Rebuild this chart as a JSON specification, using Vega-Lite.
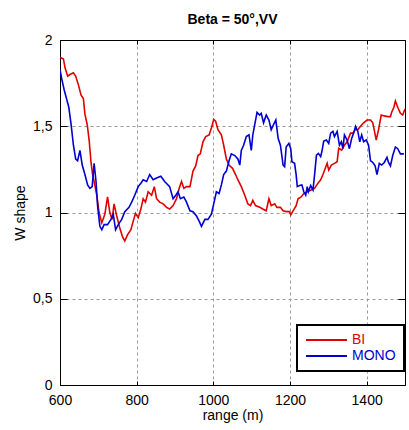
{
  "$schema": "https://vega.github.io/schema/vega-lite/v6.json",
  "width": 345,
  "height": 345,
  "autosize": "none",
  "padding": {"left": 60, "top": 40, "right": 4, "bottom": 45},
  "background": "white",
  "title": {"text": "Beta = 50°,VV", "font": "Liberation Sans", "fontSize": 14, "fontWeight": "bold", "color": "black", "offset": 6},
  "config": {
    "view": {"stroke": "black", "strokeWidth": 1},
    "axis": {"domainColor": "black", "tickColor": "black", "labelColor": "black", "titleColor": "black", "labelFont": "Liberation Sans", "titleFont": "Liberation Sans", "labelFontSize": 14, "titleFontSize": 14, "titleFontWeight": "normal", "gridColor": "#9a9a9a", "gridDash": [3, 3], "gridOpacity": 1, "gridWidth": 1}
  },
  "data": {"values": [
    {"r":600,"v":1.90,"s":"BI"},{"r":609,"v":1.89,"s":"BI"},{"r":613,"v":1.84,"s":"BI"},{"r":620,"v":1.79,"s":"BI"},{"r":626,"v":1.80,"s":"BI"},{"r":635,"v":1.81,"s":"BI"},{"r":641,"v":1.79,"s":"BI"},{"r":648,"v":1.74,"s":"BI"},{"r":655,"v":1.68,"s":"BI"},{"r":661,"v":1.66,"s":"BI"},{"r":665,"v":1.57,"s":"BI"},{"r":671,"v":1.51,"s":"BI"},{"r":676,"v":1.42,"s":"BI"},{"r":681,"v":1.29,"s":"BI"},{"r":685,"v":1.22,"s":"BI"},{"r":689,"v":1.18,"s":"BI"},{"r":696,"v":1.10,"s":"BI"},{"r":702,"v":1.00,"s":"BI"},{"r":709,"v":0.94,"s":"BI"},{"r":717,"v":0.99,"s":"BI"},{"r":724,"v":1.09,"s":"BI"},{"r":730,"v":1.00,"s":"BI"},{"r":736,"v":0.96,"s":"BI"},{"r":741,"v":1.05,"s":"BI"},{"r":748,"v":0.98,"s":"BI"},{"r":756,"v":0.91,"s":"BI"},{"r":763,"v":0.86,"s":"BI"},{"r":769,"v":0.835,"s":"BI"},{"r":776,"v":0.87,"s":"BI"},{"r":785,"v":0.90,"s":"BI"},{"r":791,"v":0.95,"s":"BI"},{"r":797,"v":0.995,"s":"BI"},{"r":804,"v":0.97,"s":"BI"},{"r":811,"v":1.02,"s":"BI"},{"r":817,"v":1.08,"s":"BI"},{"r":823,"v":1.06,"s":"BI"},{"r":830,"v":1.12,"s":"BI"},{"r":839,"v":1.10,"s":"BI"},{"r":846,"v":1.15,"s":"BI"},{"r":852,"v":1.08,"s":"BI"},{"r":860,"v":1.06,"s":"BI"},{"r":869,"v":1.05,"s":"BI"},{"r":878,"v":1.03,"s":"BI"},{"r":886,"v":1.02,"s":"BI"},{"r":895,"v":1.04,"s":"BI"},{"r":904,"v":1.08,"s":"BI"},{"r":911,"v":1.14,"s":"BI"},{"r":917,"v":1.18,"s":"BI"},{"r":923,"v":1.14,"s":"BI"},{"r":930,"v":1.15,"s":"BI"},{"r":939,"v":1.15,"s":"BI"},{"r":947,"v":1.24,"s":"BI"},{"r":954,"v":1.27,"s":"BI"},{"r":960,"v":1.33,"s":"BI"},{"r":966,"v":1.34,"s":"BI"},{"r":973,"v":1.41,"s":"BI"},{"r":980,"v":1.44,"s":"BI"},{"r":989,"v":1.45,"s":"BI"},{"r":995,"v":1.49,"s":"BI"},{"r":1001,"v":1.54,"s":"BI"},{"r":1006,"v":1.53,"s":"BI"},{"r":1012,"v":1.48,"s":"BI"},{"r":1021,"v":1.45,"s":"BI"},{"r":1027,"v":1.39,"s":"BI"},{"r":1034,"v":1.31,"s":"BI"},{"r":1041,"v":1.275,"s":"BI"},{"r":1050,"v":1.256,"s":"BI"},{"r":1058,"v":1.22,"s":"BI"},{"r":1064,"v":1.19,"s":"BI"},{"r":1073,"v":1.15,"s":"BI"},{"r":1082,"v":1.10,"s":"BI"},{"r":1090,"v":1.05,"s":"BI"},{"r":1097,"v":1.04,"s":"BI"},{"r":1103,"v":1.07,"s":"BI"},{"r":1110,"v":1.04,"s":"BI"},{"r":1121,"v":1.03,"s":"BI"},{"r":1129,"v":1.02,"s":"BI"},{"r":1138,"v":1.01,"s":"BI"},{"r":1145,"v":1.08,"s":"BI"},{"r":1151,"v":1.04,"s":"BI"},{"r":1160,"v":1.05,"s":"BI"},{"r":1166,"v":1.03,"s":"BI"},{"r":1175,"v":1.03,"s":"BI"},{"r":1182,"v":1.01,"s":"BI"},{"r":1190,"v":1.005,"s":"BI"},{"r":1199,"v":1.005,"s":"BI"},{"r":1202,"v":0.986,"s":"BI"},{"r":1208,"v":1.01,"s":"BI"},{"r":1216,"v":1.04,"s":"BI"},{"r":1221,"v":1.08,"s":"BI"},{"r":1229,"v":1.09,"s":"BI"},{"r":1236,"v":1.11,"s":"BI"},{"r":1245,"v":1.12,"s":"BI"},{"r":1255,"v":1.13,"s":"BI"},{"r":1264,"v":1.14,"s":"BI"},{"r":1273,"v":1.17,"s":"BI"},{"r":1280,"v":1.19,"s":"BI"},{"r":1286,"v":1.22,"s":"BI"},{"r":1292,"v":1.256,"s":"BI"},{"r":1297,"v":1.285,"s":"BI"},{"r":1301,"v":1.246,"s":"BI"},{"r":1308,"v":1.275,"s":"BI"},{"r":1316,"v":1.285,"s":"BI"},{"r":1323,"v":1.294,"s":"BI"},{"r":1327,"v":1.372,"s":"BI"},{"r":1335,"v":1.362,"s":"BI"},{"r":1342,"v":1.39,"s":"BI"},{"r":1349,"v":1.41,"s":"BI"},{"r":1358,"v":1.46,"s":"BI"},{"r":1364,"v":1.46,"s":"BI"},{"r":1370,"v":1.48,"s":"BI"},{"r":1377,"v":1.48,"s":"BI"},{"r":1384,"v":1.50,"s":"BI"},{"r":1392,"v":1.52,"s":"BI"},{"r":1401,"v":1.536,"s":"BI"},{"r":1410,"v":1.536,"s":"BI"},{"r":1416,"v":1.52,"s":"BI"},{"r":1425,"v":1.42,"s":"BI"},{"r":1431,"v":1.48,"s":"BI"},{"r":1438,"v":1.565,"s":"BI"},{"r":1446,"v":1.56,"s":"BI"},{"r":1455,"v":1.556,"s":"BI"},{"r":1462,"v":1.556,"s":"BI"},{"r":1465,"v":1.58,"s":"BI"},{"r":1471,"v":1.61,"s":"BI"},{"r":1475,"v":1.646,"s":"BI"},{"r":1481,"v":1.61,"s":"BI"},{"r":1488,"v":1.575,"s":"BI"},{"r":1494,"v":1.565,"s":"BI"},{"r":1500,"v":1.60,"s":"BI"},
    {"r":600,"v":1.83,"s":"MONO"},{"r":604,"v":1.78,"s":"MONO"},{"r":611,"v":1.71,"s":"MONO"},{"r":617,"v":1.66,"s":"MONO"},{"r":623,"v":1.61,"s":"MONO"},{"r":629,"v":1.51,"s":"MONO"},{"r":635,"v":1.39,"s":"MONO"},{"r":641,"v":1.31,"s":"MONO"},{"r":646,"v":1.30,"s":"MONO"},{"r":652,"v":1.36,"s":"MONO"},{"r":658,"v":1.275,"s":"MONO"},{"r":665,"v":1.22,"s":"MONO"},{"r":672,"v":1.16,"s":"MONO"},{"r":678,"v":1.14,"s":"MONO"},{"r":684,"v":1.15,"s":"MONO"},{"r":689,"v":1.285,"s":"MONO"},{"r":694,"v":1.18,"s":"MONO"},{"r":698,"v":1.04,"s":"MONO"},{"r":704,"v":0.92,"s":"MONO"},{"r":709,"v":0.90,"s":"MONO"},{"r":715,"v":0.93,"s":"MONO"},{"r":724,"v":0.93,"s":"MONO"},{"r":733,"v":0.96,"s":"MONO"},{"r":739,"v":0.99,"s":"MONO"},{"r":745,"v":0.90,"s":"MONO"},{"r":752,"v":0.93,"s":"MONO"},{"r":761,"v":0.96,"s":"MONO"},{"r":769,"v":1.005,"s":"MONO"},{"r":780,"v":1.03,"s":"MONO"},{"r":787,"v":1.06,"s":"MONO"},{"r":795,"v":1.10,"s":"MONO"},{"r":804,"v":1.15,"s":"MONO"},{"r":811,"v":1.17,"s":"MONO"},{"r":817,"v":1.19,"s":"MONO"},{"r":826,"v":1.18,"s":"MONO"},{"r":834,"v":1.22,"s":"MONO"},{"r":843,"v":1.19,"s":"MONO"},{"r":852,"v":1.20,"s":"MONO"},{"r":863,"v":1.21,"s":"MONO"},{"r":873,"v":1.18,"s":"MONO"},{"r":886,"v":1.15,"s":"MONO"},{"r":895,"v":1.08,"s":"MONO"},{"r":902,"v":1.10,"s":"MONO"},{"r":908,"v":1.12,"s":"MONO"},{"r":914,"v":1.08,"s":"MONO"},{"r":923,"v":1.09,"s":"MONO"},{"r":930,"v":1.06,"s":"MONO"},{"r":939,"v":1.01,"s":"MONO"},{"r":947,"v":1.005,"s":"MONO"},{"r":956,"v":0.98,"s":"MONO"},{"r":963,"v":0.95,"s":"MONO"},{"r":969,"v":0.92,"s":"MONO"},{"r":978,"v":0.96,"s":"MONO"},{"r":986,"v":0.96,"s":"MONO"},{"r":995,"v":0.99,"s":"MONO"},{"r":1001,"v":1.05,"s":"MONO"},{"r":1008,"v":1.12,"s":"MONO"},{"r":1015,"v":1.11,"s":"MONO"},{"r":1021,"v":1.16,"s":"MONO"},{"r":1027,"v":1.22,"s":"MONO"},{"r":1034,"v":1.24,"s":"MONO"},{"r":1041,"v":1.30,"s":"MONO"},{"r":1047,"v":1.34,"s":"MONO"},{"r":1056,"v":1.33,"s":"MONO"},{"r":1064,"v":1.31,"s":"MONO"},{"r":1069,"v":1.275,"s":"MONO"},{"r":1073,"v":1.36,"s":"MONO"},{"r":1079,"v":1.39,"s":"MONO"},{"r":1086,"v":1.44,"s":"MONO"},{"r":1093,"v":1.45,"s":"MONO"},{"r":1099,"v":1.36,"s":"MONO"},{"r":1103,"v":1.45,"s":"MONO"},{"r":1108,"v":1.51,"s":"MONO"},{"r":1114,"v":1.58,"s":"MONO"},{"r":1121,"v":1.565,"s":"MONO"},{"r":1125,"v":1.575,"s":"MONO"},{"r":1131,"v":1.52,"s":"MONO"},{"r":1138,"v":1.565,"s":"MONO"},{"r":1145,"v":1.536,"s":"MONO"},{"r":1151,"v":1.48,"s":"MONO"},{"r":1157,"v":1.51,"s":"MONO"},{"r":1163,"v":1.536,"s":"MONO"},{"r":1169,"v":1.43,"s":"MONO"},{"r":1175,"v":1.39,"s":"MONO"},{"r":1182,"v":1.275,"s":"MONO"},{"r":1186,"v":1.266,"s":"MONO"},{"r":1190,"v":1.38,"s":"MONO"},{"r":1197,"v":1.40,"s":"MONO"},{"r":1202,"v":1.37,"s":"MONO"},{"r":1205,"v":1.294,"s":"MONO"},{"r":1212,"v":1.285,"s":"MONO"},{"r":1216,"v":1.22,"s":"MONO"},{"r":1219,"v":1.15,"s":"MONO"},{"r":1225,"v":1.156,"s":"MONO"},{"r":1231,"v":1.16,"s":"MONO"},{"r":1236,"v":1.12,"s":"MONO"},{"r":1241,"v":1.10,"s":"MONO"},{"r":1245,"v":1.15,"s":"MONO"},{"r":1248,"v":1.12,"s":"MONO"},{"r":1254,"v":1.156,"s":"MONO"},{"r":1260,"v":1.13,"s":"MONO"},{"r":1264,"v":1.217,"s":"MONO"},{"r":1269,"v":1.333,"s":"MONO"},{"r":1274,"v":1.343,"s":"MONO"},{"r":1280,"v":1.324,"s":"MONO"},{"r":1283,"v":1.352,"s":"MONO"},{"r":1288,"v":1.414,"s":"MONO"},{"r":1295,"v":1.42,"s":"MONO"},{"r":1301,"v":1.40,"s":"MONO"},{"r":1306,"v":1.46,"s":"MONO"},{"r":1312,"v":1.47,"s":"MONO"},{"r":1316,"v":1.44,"s":"MONO"},{"r":1323,"v":1.47,"s":"MONO"},{"r":1329,"v":1.39,"s":"MONO"},{"r":1334,"v":1.41,"s":"MONO"},{"r":1338,"v":1.37,"s":"MONO"},{"r":1342,"v":1.45,"s":"MONO"},{"r":1349,"v":1.42,"s":"MONO"},{"r":1355,"v":1.37,"s":"MONO"},{"r":1361,"v":1.43,"s":"MONO"},{"r":1366,"v":1.46,"s":"MONO"},{"r":1371,"v":1.50,"s":"MONO"},{"r":1377,"v":1.47,"s":"MONO"},{"r":1382,"v":1.41,"s":"MONO"},{"r":1387,"v":1.45,"s":"MONO"},{"r":1392,"v":1.41,"s":"MONO"},{"r":1399,"v":1.42,"s":"MONO"},{"r":1405,"v":1.39,"s":"MONO"},{"r":1410,"v":1.30,"s":"MONO"},{"r":1416,"v":1.29,"s":"MONO"},{"r":1422,"v":1.27,"s":"MONO"},{"r":1427,"v":1.22,"s":"MONO"},{"r":1433,"v":1.285,"s":"MONO"},{"r":1439,"v":1.275,"s":"MONO"},{"r":1446,"v":1.29,"s":"MONO"},{"r":1453,"v":1.32,"s":"MONO"},{"r":1457,"v":1.29,"s":"MONO"},{"r":1462,"v":1.27,"s":"MONO"},{"r":1468,"v":1.33,"s":"MONO"},{"r":1475,"v":1.38,"s":"MONO"},{"r":1481,"v":1.37,"s":"MONO"},{"r":1488,"v":1.34,"s":"MONO"},{"r":1497,"v":1.34,"s":"MONO"}
  ]},
  "resolve": {"axis": {"x": "independent", "y": "independent"}},
  "layer": [
    {
      "mark": {"type": "line", "strokeWidth": 1.6, "clip": true},
      "encoding": {
        "x": {"field": "r", "type": "quantitative", "scale": {"domain": [600, 1500], "nice": false, "zero": false},
          "axis": {"orient": "bottom", "title": "range (m)", "values": [600, 800, 1000, 1200, 1400], "format": "d", "tickSize": -4, "labelPadding": 12, "titlePadding": 1, "grid": true, "labelFlush": false}},
        "y": {"field": "v", "type": "quantitative", "scale": {"domain": [0, 2], "nice": false, "zero": false},
          "axis": {"orient": "left", "title": "W shape", "values": [0, 0.5, 1, 1.5, 2], "format": ".1~f", "labelExpr": "replace(datum.label, '.', ',')", "tickSize": -7, "labelPadding": 15, "titlePadding": 5, "grid": true}},
        "color": {"field": "s", "type": "nominal", "scale": {"domain": ["BI", "MONO"], "range": ["#e00000", "#0000d0"]},
          "legend": {"title": null, "orient": "none", "legendX": 237, "legendY": 285, "strokeColor": "black", "fillColor": "white", "padding": 8, "symbolType": "M-1,0H5.83", "symbolSize": 144, "symbolStrokeWidth": 2, "symbolFillColor": "transparent", "labelFont": "Liberation Sans", "labelFontSize": 14, "labelOffset": 33, "rowPadding": 2, "cornerRadius": 0,
            "encode": {"legend": {"update": {"strokeWidth": {"value": 2}}}, "labels": {"update": {"fill": {"scale": "color", "field": "value"}}}}}}
      }
    },
    {
      "mark": {"type": "line", "opacity": 0},
      "encoding": {
        "x": {"field": "r", "type": "quantitative", "axis": {"orient": "top", "title": null, "labels": false, "values": [600, 800, 1000, 1200, 1400], "tickSize": -4, "grid": false}},
        "y": {"field": "v", "type": "quantitative", "axis": {"orient": "right", "title": null, "labels": false, "values": [0, 0.5, 1, 1.5, 2], "tickSize": -7, "grid": false}},
        "detail": {"field": "s"}
      }
    }
  ]
}
